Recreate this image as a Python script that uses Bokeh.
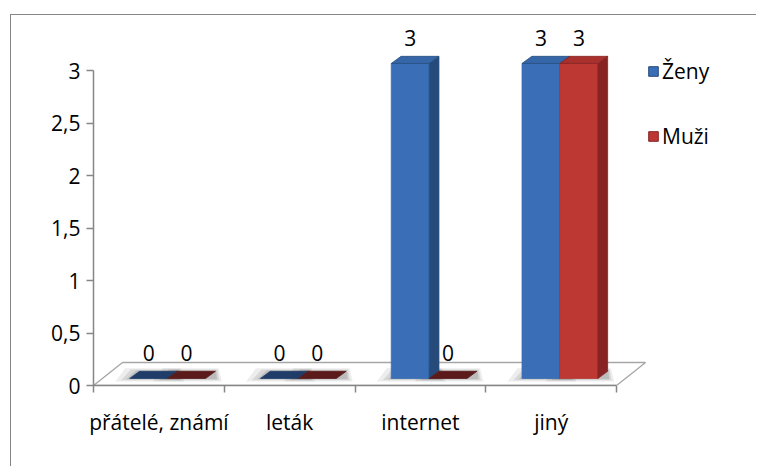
from bokeh.plotting import figure
from bokeh.models import (ColumnDataSource, FixedTicker, Legend, LegendItem,
                          Range1d)
from bokeh.core.properties import value
from bokeh.embed import file_html
from bokeh.resources import INLINE

# ---- data -----------------------------------------------------------------
categories = ["přátelé, známí", "leták", "internet", "jiný"]
series_names = ["Ženy", "Muži"]
zeny = [0, 0, 3, 3]
muzi = [0, 0, 0, 3]
y_ticks = [0, 0.5, 1, 1.5, 2, 2.5, 3]
y_tick_labels = ["0", "0,5", "1", "1,5", "2", "2,5", "3"]

# ---- styling ---------------------------------------------------------------
FONT = "Open Sans"
FONT_SIZE = "21px"
AXIS_GRAY = "#868686"
FLOOR_GRAY = "#a6a6a6"

# colours per series: front, side, top, flat (zero-height) top
palette = {
    "Ženy": dict(front="#3a6eb6", side="#264b7b", top="#3466a8", flat="#1f3d68"),
    "Muži": dict(front="#bd3833", side="#872323", top="#a8312d", flat="#5c1b1b"),
}

# pseudo-3D geometry (data units)
FLOOR_DX, FLOOR_DY = 0.222, 0.219      # depth of the floor plate
FRONT_DX, FRONT_DY = 0.067, 0.067      # bars sit a little behind the floor edge
BAR_DX, BAR_DY = 0.075, 0.068          # depth of each bar
BAR_START, BAR_W = 0.21, 0.29          # offset inside the category, bar width

p = figure(width=746, height=452,
           x_range=Range1d(0, 5.078), y_range=Range1d(0, 3.524),
           output_backend="svg", toolbar_location=None,
           min_border_left=82, min_border_bottom=82,
           min_border_top=0, min_border_right=0,
           outline_line_color=None, background_fill_color="white",
           border_fill_color="white",
           margin=(14, 0, 0, 10),
           styles={"border-left": f"1px solid {AXIS_GRAY}",
                   "border-top": f"1px solid {AXIS_GRAY}"})
p.grid.visible = False

# ---- floor plate -------------------------------------------------------------
n = len(categories)
p.patch([0, n, n + FLOOR_DX, FLOOR_DX], [0, 0, FLOOR_DY, FLOOR_DY],
        fill_color="white", line_color=FLOOR_GRAY, line_width=1.3)

# ---- bars --------------------------------------------------------------------
shadow_xs, shadow_ys, shadow_alpha = [], [], []
xs, ys, colors, edges = [], [], [], []
lab_x, lab_y, lab_t = [], [], []

for i in range(n):
    for s, (name, vals) in enumerate(zip(series_names, [zeny, muzi])):
        v = vals[i]
        c = palette[name]
        x0 = i + BAR_START + s * BAR_W + FRONT_DX
        x1 = x0 + BAR_W
        y0 = FRONT_DY
        y1 = y0 + v
        # soft shadow on the floor around the footprint
        for k, a in ((0.05, 0.07), (0.03, 0.09), (0.012, 0.12)):
            shadow_xs.append([x0 - k * 2.2, x1 + BAR_DX + k, x1 + BAR_DX + k * 0.5, x0 - k * 2.2 + BAR_DX])
            shadow_ys.append([y0 - k * 0.6, y0 - k * 0.6, y0 + BAR_DY + k * 0.6, y0 + BAR_DY + k * 0.6])
            shadow_alpha.append(a)
        if v > 0:
            # front face
            xs.append([x0, x1, x1, x0]); ys.append([y0, y0, y1, y1])
            colors.append(c["front"]); edges.append(c["front"])
            # side face
            xs.append([x1, x1 + BAR_DX, x1 + BAR_DX, x1])
            ys.append([y0, y0 + BAR_DY, y1 + BAR_DY, y1])
            colors.append(c["side"]); edges.append(c["side"])
            # top face
            xs.append([x0, x1, x1 + BAR_DX, x0 + BAR_DX])
            ys.append([y1, y1, y1 + BAR_DY, y1 + BAR_DY])
            colors.append(c["top"]); edges.append(c["side"])
        else:
            xs.append([x0, x1, x1 + BAR_DX, x0 + BAR_DX])
            ys.append([y1, y1, y1 + BAR_DY, y1 + BAR_DY])
            colors.append(c["flat"]); edges.append(c["flat"])
        lab_x.append((x0 + x1) / 2)
        lab_y.append(v + 0.31)
        lab_t.append(str(v))

p.patches(xs="xs", ys="ys", fill_color="black", fill_alpha="a", line_color=None,
          source=ColumnDataSource(dict(xs=shadow_xs, ys=shadow_ys, a=shadow_alpha)))
p.patches(xs="xs", ys="ys", fill_color="fc", line_color="lc", line_width=0.8,
          source=ColumnDataSource(dict(xs=xs, ys=ys, fc=colors, lc=edges)))

p.text(x="x", y="y", text="t", source=ColumnDataSource(dict(x=lab_x, y=lab_y, t=lab_t)),
       text_font=value(FONT), text_font_size=value(FONT_SIZE),
       text_align="center", text_baseline="middle", text_color="black")

# ---- axes --------------------------------------------------------------------
xa = p.xaxis[0]
xa.ticker = FixedTicker(ticks=[i + 0.5 for i in range(n)],
                        minor_ticks=list(range(n + 1)))
xa.major_label_overrides = {i + 0.5: c for i, c in enumerate(categories)}
xa.bounds = (0, n)
xa.axis_line_color = AXIS_GRAY
xa.axis_line_width = 1.5
xa.major_tick_line_color = None
xa.major_tick_out = 0
xa.major_tick_in = 0
xa.minor_tick_line_color = AXIS_GRAY
xa.minor_tick_line_width = 1.5
xa.minor_tick_out = 7
xa.minor_tick_in = 0
xa.major_label_standoff = 15
xa.major_label_text_font = FONT
xa.major_label_text_font_size = FONT_SIZE
xa.major_label_text_color = "black"

ya = p.yaxis[0]
ya.ticker = FixedTicker(ticks=y_ticks, minor_ticks=[])
ya.major_label_overrides = dict(zip(y_ticks, y_tick_labels))
ya.bounds = (0, 3)
ya.axis_line_color = AXIS_GRAY
ya.axis_line_width = 1.5
ya.major_tick_line_color = AXIS_GRAY
ya.major_tick_line_width = 1.5
ya.major_tick_out = 7
ya.major_tick_in = 0
ya.minor_tick_line_color = None
ya.major_label_standoff = 6
ya.major_label_text_font = FONT
ya.major_label_text_font_size = FONT_SIZE
ya.major_label_text_color = "black"

# ---- legend ------------------------------------------------------------------
# legend swatches come from off-screen quads carrying each series' colours
legend_items = []
for name in series_names:
    r = p.quad(left=[-2], right=[-1], bottom=[-2], top=[-1],
               fill_color=palette[name]["front"], line_color=palette[name]["side"])
    legend_items.append(LegendItem(label=name, renderers=[r]))
legend = Legend(items=legend_items, location=(554, 235),
                glyph_width=12, glyph_height=12, label_standoff=3,
                spacing=37, padding=0, margin=0, label_height=24,
                border_line_color=None, background_fill_alpha=0,
                label_text_font=FONT, label_text_font_size=FONT_SIZE,
                label_text_color="black")
p.add_layout(legend)

open("out.html", "w").write(file_html(p, INLINE))
